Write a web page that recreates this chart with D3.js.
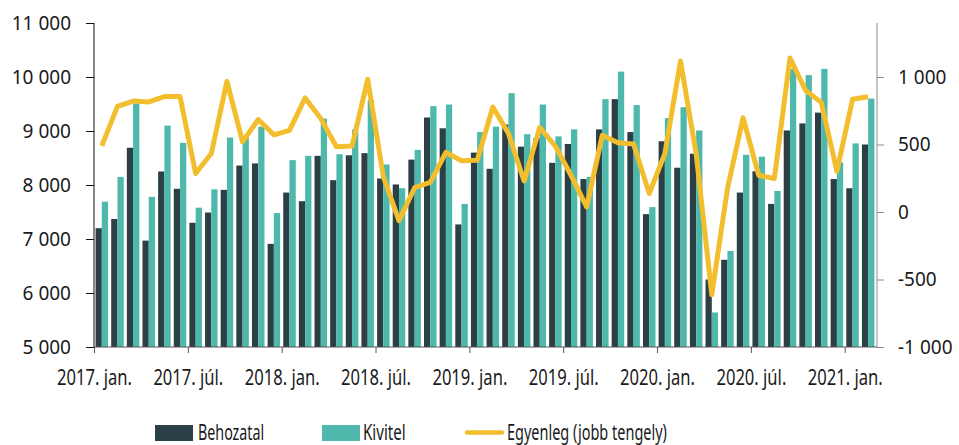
<!DOCTYPE html>
<html>
<head>
<meta charset="utf-8">
<script src="https://cdn.jsdelivr.net/npm/d3@7"></script>
<style>
  body { margin: 0; background: #fff; }
  text { font-family: 'Noto Sans', sans-serif; fill: #1a1a1a; }
</style>
</head>
<body>
<script>
// monthly categories, 2017 jan - 2021 feb
const months = [
  '2017-01', '2017-02', '2017-03', '2017-04', '2017-05', '2017-06', '2017-07', '2017-08', '2017-09', '2017-10', '2017-11', '2017-12',
  '2018-01', '2018-02', '2018-03', '2018-04', '2018-05', '2018-06', '2018-07', '2018-08', '2018-09', '2018-10', '2018-11', '2018-12',
  '2019-01', '2019-02', '2019-03', '2019-04', '2019-05', '2019-06', '2019-07', '2019-08', '2019-09', '2019-10', '2019-11', '2019-12',
  '2020-01', '2020-02', '2020-03', '2020-04', '2020-05', '2020-06', '2020-07', '2020-08', '2020-09', '2020-10', '2020-11', '2020-12',
  '2021-01', '2021-02'
];

const behozatal = [
  7200, 7370, 8690, 6970, 8250, 7930, 7300, 7490, 7910, 8360, 8400, 6910,
  7860, 7700, 8540, 8090, 8550, 8590, 8120, 8010, 8470, 9250, 9050, 7270,
  8600, 8300, 9120, 8710, 8870, 8410, 8760, 8110, 9030, 9590, 8980, 7460,
  8810, 8320, 8580, 6250, 6615, 7860, 8255, 7650, 9010, 9140, 9340, 8110,
  7940, 8750
];

const kivitel = [
  7690, 8150, 9510, 7780, 9100, 8780, 7580, 7920, 8880, 8880, 9080, 7480,
  8460, 8540, 9230, 8570, 9030, 9570, 8380, 7940, 8650, 9460, 9490, 7650,
  8980, 9080, 9700, 8940, 9490, 8900, 9030, 8150, 9590, 10100, 9480, 7590,
  9240, 9440, 9010, 5640, 6780, 8560, 8525, 7890, 10150, 10035, 10150, 8420,
  8770, 9600
];

const egyenleg = [
  490, 782, 822, 815, 855, 855, 285, 433, 968, 520, 685, 572,
  605, 845, 692, 483, 488, 983, 262, -65, 180, 220, 442, 380,
  383, 778, 582, 230, 627, 487, 272, 38, 568, 513, 503, 137,
  433, 1118, 433, -613, 172, 698, 272, 248, 1140, 900, 812, 302,
  835, 853
];

const xTickMonths = [0, 6, 12, 18, 24, 30, 36, 42, 48];
const xTickLabels = ['2017. jan.', '2017. júl.', '2018. jan.', '2018. júl.', '2019. jan.',
  '2019. júl.', '2020. jan.', '2020. júl.', '2021. jan.'];
const leftTicks = [5000, 6000, 7000, 8000, 9000, 10000, 11000];
const rightTicks = [-1000, -500, 0, 500, 1000];

const seriesNames = ['Behozatal', 'Kivitel', 'Egyenleg (jobb tengely)'];
const colors = { imp: '#2b3f47', exp: '#4db8ab', bal: '#f3be2e' };

// set the dimensions and margins of the graph
const W = 959, H = 445;
const margin = { top: 23, right: 83, bottom: 98, left: 94 };
const width = W - margin.left - margin.right;
const height = H - margin.top - margin.bottom;

// thousands separated by a space, plain hyphen for negatives
const fmt = v => d3.format(',')(v).replace(/,/g, '\u00a0').replace('\u2212', '-');

const svg = d3.select('body').append('svg')
  .attr('width', W)
  .attr('height', H);

const chart = svg.append('g')
  .attr('transform', `translate(${margin.left}, ${margin.top})`);

// scales
const x = d3.scaleBand()
  .domain(months)
  .range([0, width]);

const xIdx = d3.scaleLinear()
  .domain([0, months.length])
  .range([0, width]);

const xSub = d3.scaleBand()
  .domain(['imp', 'exp'])
  .range([0, x.step()])
  .paddingInner(0)
  .paddingOuter(0.25);

const y = d3.scaleLinear()
  .domain([5000, 11000])
  .range([height, 0]);

const y2 = d3.scaleLinear()
  .domain([-1000, 1400])
  .range([height, 0]);

// bars
const groups = chart.selectAll('g.month')
  .data(months)
  .enter().append('g')
  .attr('class', 'month')
  .attr('transform', d => `translate(${x(d)}, 0)`);

groups.append('rect')
  .attr('x', xSub('imp'))
  .attr('width', xSub.bandwidth())
  .attr('y', (d, i) => y(behozatal[i]))
  .attr('height', (d, i) => height - y(behozatal[i]))
  .attr('fill', colors.imp);

groups.append('rect')
  .attr('x', xSub('exp'))
  .attr('width', xSub.bandwidth())
  .attr('y', (d, i) => y(kivitel[i]))
  .attr('height', (d, i) => height - y(kivitel[i]))
  .attr('fill', colors.exp);

// left axis
const yAxis = chart.append('g')
  .call(d3.axisLeft(y).tickValues(leftTicks).tickFormat(fmt).tickSize(8).tickPadding(15));
yAxis.select('.domain').attr('stroke', '#111').attr('d', `M0,0V${height}`);
yAxis.selectAll('.tick line').attr('stroke', '#111');
yAxis.selectAll('text').style('font-size', '19px');

// right axis
const y2Axis = chart.append('g')
  .attr('transform', `translate(${width + 1}, 0)`)
  .call(d3.axisRight(y2).tickValues(rightTicks).tickFormat(fmt).tickSize(7).tickPadding(14));
y2Axis.select('.domain').attr('stroke', '#8c8c8c').attr('d', `M0,0V${height}`);
y2Axis.selectAll('.tick line').attr('stroke', '#8c8c8c');
y2Axis.selectAll('text').style('font-size', '19px');

// bottom axis
const xAxis = chart.append('g')
  .attr('transform', `translate(0, ${height})`)
  .call(d3.axisBottom(xIdx).tickValues(xTickMonths)
    .tickFormat((d, i) => xTickLabels[i]).tickSize(6).tickPadding(17));
xAxis.select('.domain').attr('stroke', '#555').attr('d', `M0,0H${width + 1}`);
xAxis.selectAll('.tick line').attr('stroke', '#555');
xAxis.selectAll('text')
  .style('font-size', '21px')
  .attr('transform', 'scale(0.79,1)');

// balance line
const line = d3.line()
  .x((d, i) => x(months[i]) + x.bandwidth() / 2)
  .y(d => y2(d));

chart.append('path')
  .datum(egyenleg)
  .attr('fill', 'none')
  .attr('stroke', colors.bal)
  .attr('stroke-width', 5)
  .attr('stroke-linejoin', 'round')
  .attr('d', line);

// legend
const legend = svg.append('g');
const legendX = [155, 322, 465];
const legendY = 425;

legend.append('rect')
  .attr('x', legendX[0]).attr('y', legendY)
  .attr('width', 38).attr('height', 16)
  .attr('fill', colors.imp);
legend.append('rect')
  .attr('x', legendX[1]).attr('y', legendY)
  .attr('width', 38).attr('height', 16)
  .attr('fill', colors.exp);
legend.append('line')
  .attr('x1', legendX[2] + 2).attr('x2', legendX[2] + 37)
  .attr('y1', legendY + 7.5).attr('y2', legendY + 7.5)
  .attr('stroke', colors.bal)
  .attr('stroke-width', 4.5)
  .attr('stroke-linecap', 'round');

const legendTextX = [198, 363, 507];
const legendScale = [0.68, 0.72, 0.69];
seriesNames.forEach((name, i) => {
  legend.append('text')
    .attr('transform', `translate(${legendTextX[i]}, ${legendY + 15}) scale(${legendScale[i]},1)`)
    .style('font-size', '21px')
    .text(name);
});
</script>
</body>
</html>
